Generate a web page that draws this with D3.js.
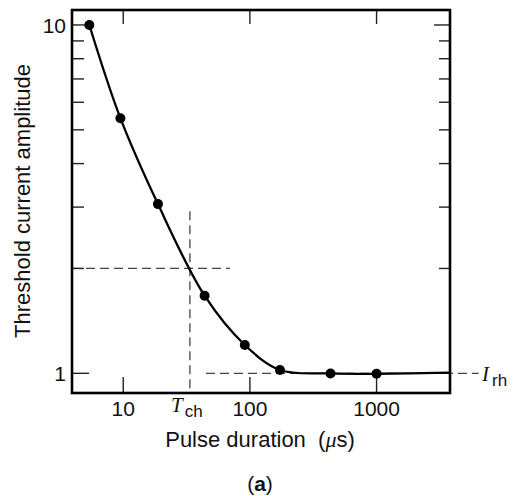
<!DOCTYPE html>
<html>
<head>
<meta charset="utf-8">
<script src="https://cdn.jsdelivr.net/npm/d3@7"></script>
<style>
  body { margin: 0; background: #fff; }
  svg { display: block; }
  text { font-family: "Liberation Sans", Arial, sans-serif; fill: #111; }
</style>
</head>
<body>
<div id="chart"></div>
<script>

const width = 516, height = 496;

// data
const pulseDur = [5.4, 9.5, 18.8, 43.9, 91.2, 172.6, 433, 1000];   // µs
const threshAmp = [10, 5.4, 3.06, 1.67, 1.206, 1.022, 0.999, 0.997];
// curve keeps going to the right edge
const curveDur = [3800];
const curveAmp = [1.004];

const xDomain = [3.94, 3800];
const yDomain = [0.878, 11.04];
const xTicks = [10, 100, 1000];
const yMajor = [1, 10];
const yMinor = [2, 3, 4, 5, 6, 7, 8, 9];

// chronaxie / rheobase guide lines
const tCh = 33.6;
const tChTop = 2.92;
const twoRheo = 2, twoRheoEnd = 69.5;
const rheo = 1, rheoStart = 45, rheoEnd = 6400;

const svg = d3.select("#chart")
	.append("svg")
	.attr("width", width)
	.attr("height", height);

const x = d3.scaleLog().domain(xDomain).range([72, 450]);
const y = d3.scaleLog().domain(yDomain).range([393, 10]);

// DASHED GUIDES
let guides = svg.append("g")
	.style("stroke", "#444")
	.style("stroke-width", 1.3)
	.style("stroke-dasharray", "9,5")
	.style("fill", "none");

guides.append("line")
	.attr("x1", x(xDomain[0])).attr("x2", x(twoRheoEnd))
	.attr("y1", y(twoRheo)).attr("y2", y(twoRheo));

guides.append("line")
	.attr("x1", x(tCh)).attr("x2", x(tCh))
	.attr("y1", y(tChTop)).attr("y2", y(yDomain[0]));

guides.append("line")
	.attr("x1", x(rheoStart)).attr("x2", x(rheoEnd))
	.attr("y1", y(rheo)).attr("y2", y(rheo));

// TICKS (inside the box, on all four sides)
let ticks = svg.append("g")
	.style("stroke", "#222")
	.style("stroke-width", 1.4);

yMajor.forEach(v => {
	ticks.append("line").attr("x1", 72).attr("x2", 89).attr("y1", y(v)).attr("y2", y(v));
	ticks.append("line").attr("x1", 450).attr("x2", 434).attr("y1", y(v)).attr("y2", y(v));
});
yMinor.forEach(v => {
	ticks.append("line").attr("x1", 72).attr("x2", 84).attr("y1", y(v)).attr("y2", y(v));
	ticks.append("line").attr("x1", 450).attr("x2", 439).attr("y1", y(v)).attr("y2", y(v));
});
xTicks.forEach(v => {
	ticks.append("line").attr("x1", x(v)).attr("x2", x(v)).attr("y1", 393).attr("y2", 377);
	ticks.append("line").attr("x1", x(v)).attr("x2", x(v)).attr("y1", 10).attr("y2", 24);
});

// BOX
svg.append("rect")
	.attr("x", 72).attr("y", 10)
	.attr("width", 450 - 72).attr("height", 393 - 10)
	.style("fill", "none")
	.style("stroke", "#000")
	.style("stroke-width", 2.6);

// TICK LABELS
svg.append("g").selectAll("text")
	.data(yMajor)
	.enter()
	.append("text")
	.attr("x", 66)
	.attr("y", d => y(d))
	.attr("dy", "0.36em")
	.attr("text-anchor", "end")
	.style("font-size", "21px")
	.text(d => d);

svg.append("g").selectAll("text")
	.data(xTicks)
	.enter()
	.append("text")
	.attr("x", d => x(d))
	.attr("y", 416)
	.attr("text-anchor", "middle")
	.style("font-size", "21px")
	.text(d => d);

// CURVE + POINTS
const curvePts = pulseDur.map((d, i) => [d, threshAmp[i]])
	.concat(curveDur.map((d, i) => [d, curveAmp[i]]));

const line = d3.line()
	.x(d => x(d[0]))
	.y(d => y(d[1]))
	.curve(d3.curveCatmullRom.alpha(0.5));

svg.append("path")
	.datum(curvePts)
	.attr("d", line)
	.style("fill", "none")
	.style("stroke", "#000")
	.style("stroke-width", 2.3);

svg.append("g").selectAll("circle")
	.data(pulseDur)
	.enter()
	.append("circle")
	.attr("cx", d => x(d))
	.attr("cy", (d, i) => y(threshAmp[i]))
	.attr("r", 5)
	.style("fill", "#000");

// T_ch and I_rh
let tl = svg.append("text")
	.attr("x", 171)
	.attr("y", 412);
tl.append("tspan")
	.style("font-family", "'Liberation Serif', 'DejaVu Serif', serif")
	.style("font-style", "italic")
	.style("font-size", "21px")
	.text("T");
tl.append("tspan")
	.attr("dx", 2)
	.attr("dy", 5)
	.style("font-size", "17px")
	.text("ch");

let il = svg.append("text")
	.attr("x", 482)
	.attr("y", 381);
il.append("tspan")
	.style("font-family", "'Liberation Serif', 'DejaVu Serif', serif")
	.style("font-style", "italic")
	.style("font-size", "21px")
	.text("I");
il.append("tspan")
	.attr("dx", 3)
	.attr("dy", 5)
	.style("font-size", "17px")
	.text("rh");

// AXIS TITLES
let xt = svg.append("text")
	.attr("x", 260)
	.attr("y", 447)
	.attr("text-anchor", "middle")
	.style("font-size", "22px");
xt.append("tspan").text("Pulse duration\u00a0\u00a0(");
xt.append("tspan")
	.style("font-family", "'Liberation Serif', serif")
	.style("font-style", "italic")
	.text("\u03bc");
xt.append("tspan").text("s)");

svg.append("text")
	.attr("transform", "translate(30,201) rotate(-90)")
	.attr("text-anchor", "middle")
	.style("font-size", "22px")
	.text("Threshold current amplitude");

let cap = svg.append("text")
	.attr("x", 260)
	.attr("y", 491)
	.attr("text-anchor", "middle")
	.style("font-size", "21px");
cap.append("tspan").text("(");
cap.append("tspan").style("font-weight", "bold").text("a");
cap.append("tspan").text(")");

</script>
</body>
</html>
